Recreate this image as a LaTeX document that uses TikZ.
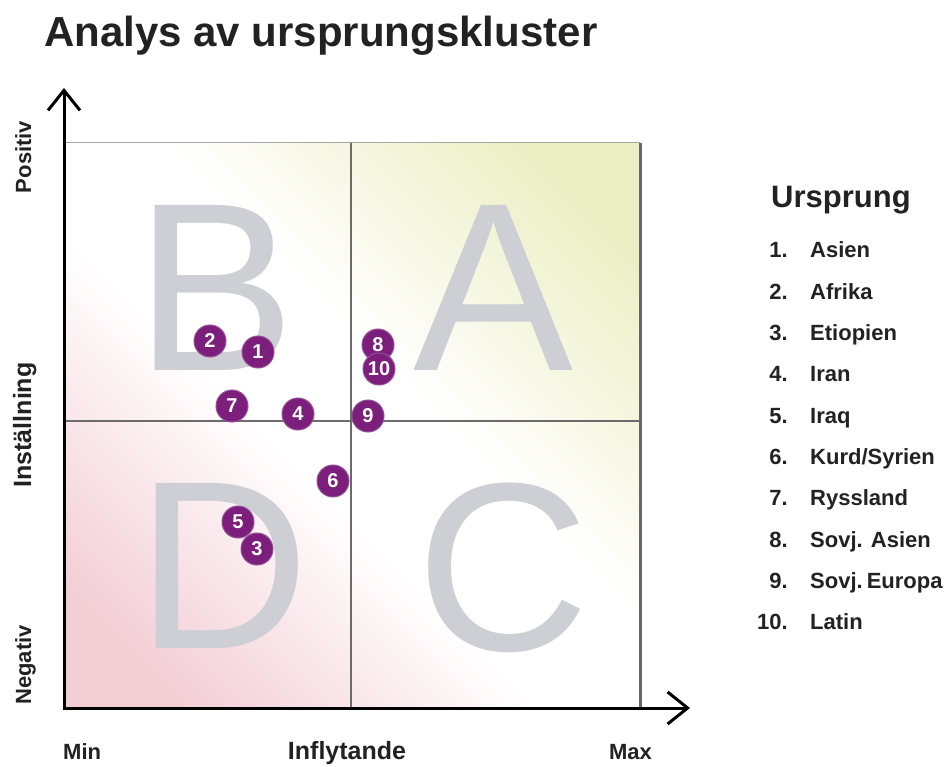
\documentclass[tikz,border=0pt]{standalone}
\usepackage{fontspec}
\setmainfont{Liberation Sans}
\usetikzlibrary{arrows.meta}
\definecolor{pinkc}{RGB}{243,206,213}
\definecolor{yelc}{RGB}{236,239,196}
\definecolor{lettergray}{RGB}{206,207,212}
\definecolor{dotpurple}{RGB}{124,30,124}
\definecolor{dotrim}{RGB}{150,80,150}
\definecolor{txtdark}{RGB}{34,34,34}
\pgfdeclarehorizontalshading{quadshade}{100bp}{color(0bp)=(pinkc); color(22bp)=(pinkc); color(44bp)=(white); color(56bp)=(white); color(78bp)=(yelc); color(100bp)=(yelc)}
\begin{document}
\begin{tikzpicture}[x=1pt,y=-1pt,
  dotnode/.style={circle, fill=dotpurple, draw=dotrim, line width=1pt, minimum size=32pt, inner sep=0pt, text=white, font=\bfseries\fontsize{20}{20}\selectfont},
  bigletter/.style={anchor=base, inner sep=0pt, text=lettergray, font=\fontsize{240}{240}\selectfont},
  legnum/.style={anchor=base east, inner sep=0pt, text=txtdark, font=\bfseries\fontsize{22}{22}\selectfont},
  legtxt/.style={anchor=base west, inner sep=0pt, text=txtdark, font=\bfseries\fontsize{22}{22}\selectfont},
  smalllabel/.style={inner sep=0pt, text=txtdark, font=\bfseries\fontsize{22}{22}\selectfont},
  biglabel/.style={inner sep=0pt, text=txtdark, font=\bfseries\fontsize{25}{25}\selectfont},
  axisline/.style={line width=3pt, {Straight Barb[length=20pt,width=32pt,line width=3pt]}-{Straight Barb[length=20pt,width=32pt,line width=3pt]}},
  midline/.style={draw=black!58, line width=1.3pt}
]
\useasboundingbox (0,0) rectangle (945,767);
\fill[white] (0,0) rectangle (945,767);

% title
\node[anchor=base west, inner sep=0pt, text=txtdark, font=\bfseries\fontsize{42}{42}\selectfont] (title) at (44,47) {Analys av ursprungskluster};

% plot area
\coordinate (bl) at (64,708);
\coordinate (tl) at (64,143);
\coordinate (tr) at (640,143);
\coordinate (br) at (640,708);
\shade[shading=quadshade, shading angle=45] (tl) rectangle (br);
\draw[black!35, line width=1pt] (tl) -- (tr);
\draw[black!60, line width=3pt] (tr) -- (br);

% quadrant letters
\node[bigletter] (qB) at (216,370) {B};
\node[bigletter] (qA) at (494,370) {A};
\node[bigletter] (qD) at (223,648) {D};
\node[bigletter] (qC) at (503,650) {C};

% centre lines
\coordinate (vt) at (351,143);
\coordinate (vb) at (351,708);
\coordinate (hl) at (64,421);
\coordinate (hr) at (640,421);
\draw[midline] (vt) -- (vb);
\draw[midline] (hl) -- (hr);

% axes
\coordinate (ytip) at (64,88);
\coordinate (xtip) at (690,708);
\draw[axisline] (ytip) -- (bl) -- (xtip);

% dots
\node[dotnode] (d2) at (210,341) {2};
\node[dotnode] (d1) at (258,352) {1};
\node[dotnode] (d7) at (232,406) {7};
\node[dotnode] (d4) at (298,414) {4};
\node[dotnode] (d9) at (368,416) {9};
\node[dotnode] (d6) at (333,481) {6};
\node[dotnode] (d5) at (238,522) {5};
\node[dotnode] (d3) at (257,549) {3};
\node[dotnode] (d8) at (378,345) {8};
\node[dotnode] (d10) at (379,369) {10};

% axis labels
\node[smalllabel, anchor=base west] (lmin) at (63,759) {Min};
\node[biglabel, anchor=base] (linf) at (347,759) {Inflytande};
\node[smalllabel, anchor=base east] (lmax) at (652,759) {Max};
\node[smalllabel, anchor=base, rotate=90] (lpos) at (31,157) {Positiv};
\node[biglabel, anchor=base, rotate=90] (lins) at (31,425) {Inställning};
\node[smalllabel, anchor=base, rotate=90] (lneg) at (31,665) {Negativ};

% legend
\node[anchor=base west, inner sep=0pt, text=txtdark, font=\bfseries\fontsize{31}{31}\selectfont] (legtitle) at (771,208) {Ursprung};
\foreach \n/\t [count=\i from 0] in {1/Asien,2/Afrika,3/Etiopien,4/Iran,5/Iraq,6/Kurd\slash Syrien,7/Ryssland,8/Sovj. Asien,9/{\spaceskip=2pt Sovj. Europa},10/Latin}{
  \node[legnum] (ln\n) at (788,258+41.33*\i) {\n.};
  \node[legtxt] (lt\n) at (810,258+41.33*\i) {\t};
}
\end{tikzpicture}
\end{document}
